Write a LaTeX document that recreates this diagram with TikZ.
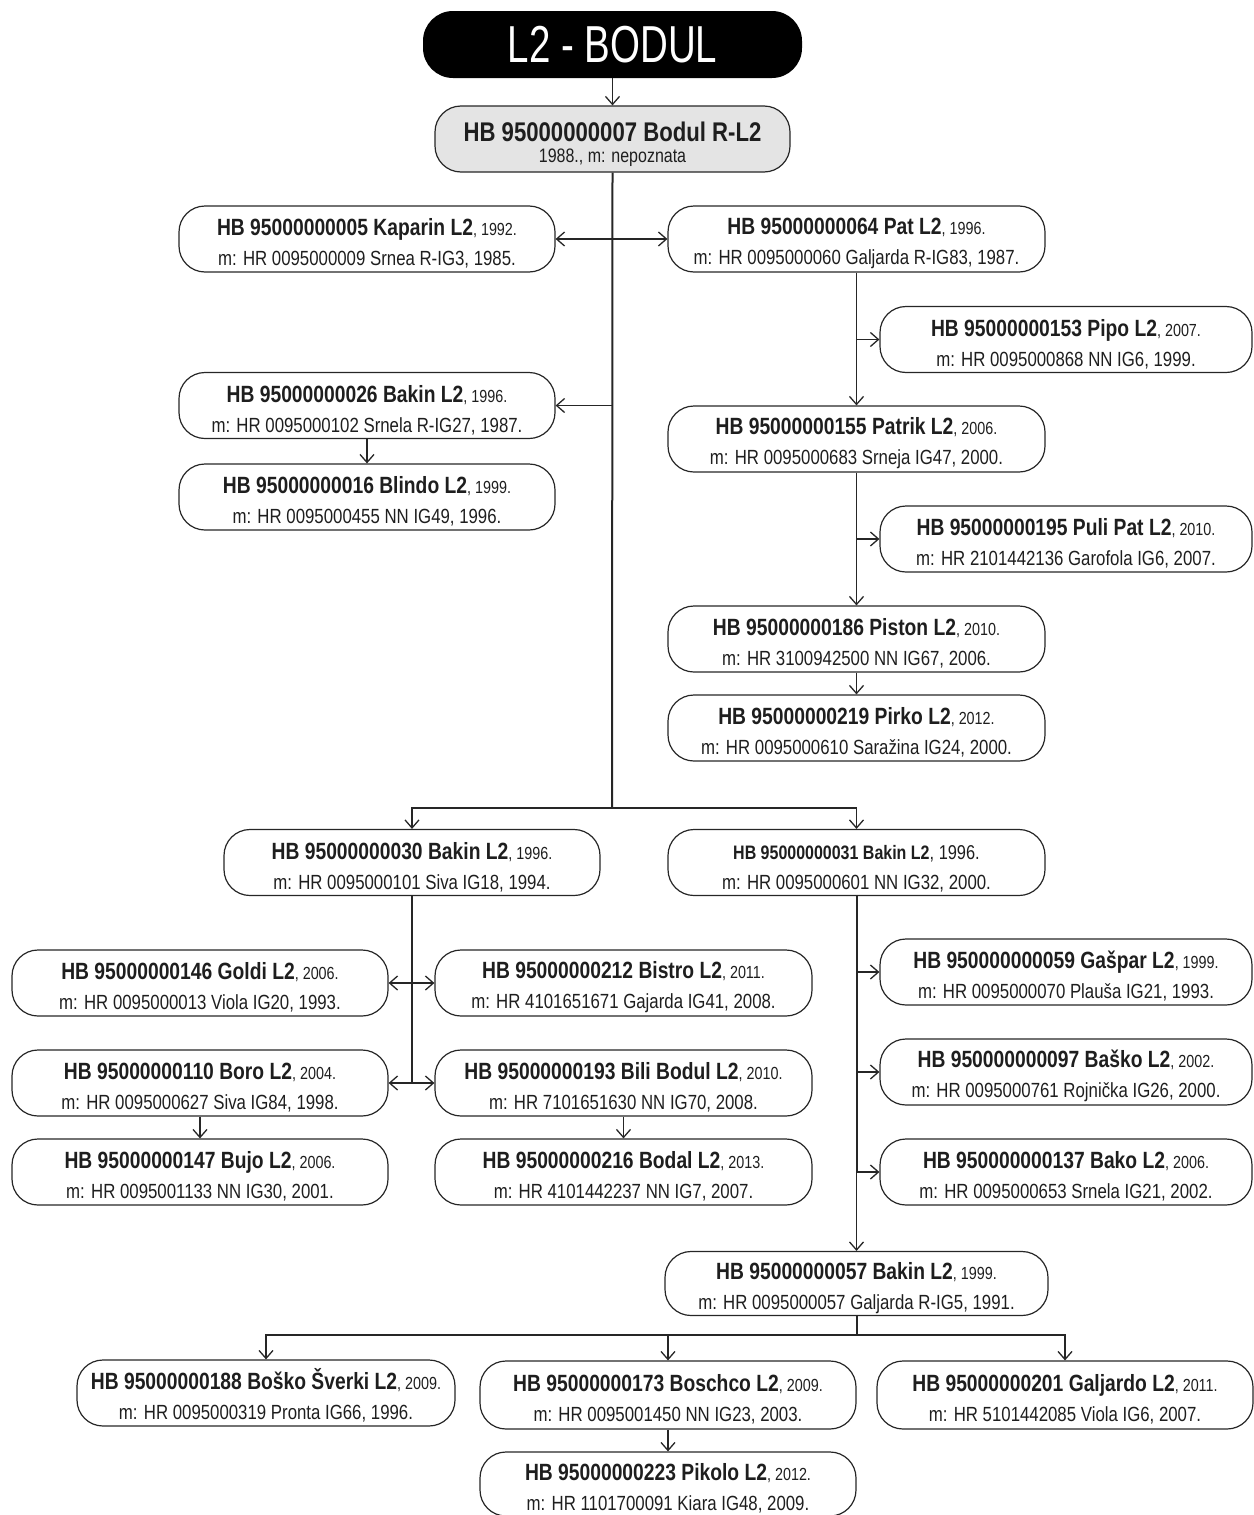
\documentclass[tikz,border=0pt]{standalone}
\usepackage{fontspec}
\setmainfont{Liberation Sans}[FakeStretch=0.82]
\newfontfamily\titlefont{Liberation Sans}[FakeStretch=0.74]
\usetikzlibrary{arrows.meta}
\definecolor{txt}{RGB}{30,30,30}
\definecolor{rootfill}{RGB}{228,228,228}
\newcommand\entry[3]{\rule{0pt}{26pt}{\bfseries\fontsize{23.5}{30}\selectfont #1}{\fontsize{17.5}{30}\selectfont, #2.}\\{\fontsize{20.5}{30}\selectfont m: #3}}
\tikzset{
  >={Straight Barb[length=8pt,width=14pt]},
  pbox/.style={draw=black!85, line width=1.2pt, rounded corners=26pt, minimum height=66pt,
    inner sep=0pt, align=center, text=txt, font=\fontsize{20.5}{30}\selectfont},
  conn/.style={line width=1.3pt, black!85},
  trunk/.style={line width=2pt, black!85},
}
\begin{document}
\begin{tikzpicture}[x=1pt,y=-1pt]
\useasboundingbox (0,0) rectangle (1253,1515);
% title and root
\node[fill=black, rounded corners=30pt, minimum width=379pt, minimum height=67pt, inner sep=0pt,
  text=white, font=\titlefont\fontsize{52}{52}\selectfont] (title) at (612.5,44.5) {L2 - BODUL};
\node[pbox, fill=rootfill, minimum width=355pt, font=\fontsize{19.5}{21}\selectfont] (root) at (612.5,139)
  {\rule{0pt}{31pt}{\bfseries\fontsize{27}{21}\selectfont HB 95000000007 Bodul R-L2}\\{\fontsize{19.5}{21}\selectfont 1988., m: nepoznata}};
% left/right first level
\node[pbox, minimum width=376pt] (kaparin) at (367,239) {\entry{HB 95000000005 Kaparin L2}{1992}{HR 0095000009 Srnea R-IG3, 1985.}};
\node[pbox, minimum width=377pt] (pat) at (856.5,239) {\entry{HB 95000000064 Pat L2}{1996}{HR 0095000060 Galjarda R-IG83, 1987.}};
\node[pbox, minimum width=372pt] (pipo) at (1066,339.5) {\entry{HB 95000000153 Pipo L2}{2007}{HR 0095000868 NN IG6, 1999.}};
\node[pbox, minimum width=376pt] (bakin26) at (367,405.5) {\entry{HB 95000000026 Bakin L2}{1996}{HR 0095000102 Srnela R-IG27, 1987.}};
\node[pbox, minimum width=376pt] (blindo) at (367,497) {\entry{HB 95000000016 Blindo L2}{1999}{HR 0095000455 NN IG49, 1996.}};
\node[pbox, minimum width=377pt] (patrik) at (856.5,439) {\entry{HB 95000000155 Patrik L2}{2006}{HR 0095000683 Srneja IG47, 2000.}};
\node[pbox, minimum width=372pt] (puli) at (1066,539) {\entry{HB 95000000195 Puli Pat L2}{2010}{HR 2101442136 Garofola IG6, 2007.}};
\node[pbox, minimum width=377pt] (piston) at (856.5,639) {\entry{HB 95000000186 Piston L2}{2010}{HR 3100942500 NN IG67, 2006.}};
\node[pbox, minimum width=377pt] (pirko) at (856.5,728) {\entry{HB 95000000219 Pirko L2}{2012}{HR 0095000610 Saražina IG24, 2000.}};
% second generation
\node[pbox, minimum width=376pt] (bakin30) at (412,862.5) {\entry{HB 95000000030 Bakin L2}{1996}{HR 0095000101 Siva IG18, 1994.}};
\node[pbox, minimum width=377pt] (bakin31) at (856.5,862.5)
  {\rule{0pt}{26pt}{\bfseries\fontsize{19.5}{30}\selectfont HB 95000000031 Bakin L2}{\fontsize{20}{30}\selectfont, 1996.}\\{\fontsize{20.5}{30}\selectfont m: HR 0095000601 NN IG32, 2000.}};
\node[pbox, minimum width=376pt] (goldi) at (200,983) {\entry{HB 95000000146 Goldi L2}{2006}{HR 0095000013 Viola IG20, 1993.}};
\node[pbox, minimum width=377pt] (bistro) at (623.5,983) {\entry{HB 95000000212 Bistro L2}{2011}{HR 4101651671 Gajarda IG41, 2008.}};
\node[pbox, minimum width=376pt] (boro) at (200,1083) {\entry{HB 95000000110 Boro L2}{2004}{HR 0095000627 Siva IG84, 1998.}};
\node[pbox, minimum width=377pt] (bili) at (623.5,1083) {\entry{HB 95000000193 Bili Bodul L2}{2010}{HR 7101651630 NN IG70, 2008.}};
\node[pbox, minimum width=376pt] (bujo) at (200,1172) {\entry{HB 95000000147 Bujo L2}{2006}{HR 0095001133 NN IG30, 2001.}};
\node[pbox, minimum width=377pt] (bodal) at (623.5,1172) {\entry{HB 95000000216 Bodal L2}{2013}{HR 4101442237 NN IG7, 2007.}};
\node[pbox, minimum width=372pt] (gaspar) at (1066,972) {\entry{HB 950000000059 Gašpar L2}{1999}{HR 0095000070 Plauša IG21, 1993.}};
\node[pbox, minimum width=372pt] (basko) at (1066,1072) {\entry{HB 950000000097 Baško L2}{2002}{HR 0095000761 Rojnička IG26, 2000.}};
\node[pbox, minimum width=372pt] (bako) at (1066,1172) {\entry{HB 950000000137 Bako L2}{2006}{HR 0095000653 Srnela IG21, 2002.}};
% third generation
\node[pbox, minimum width=383pt, minimum height=64pt] (bakin57) at (856.5,1283.5) {\entry{HB 95000000057 Bakin L2}{1999}{HR 0095000057 Galjarda R-IG5, 1991.}};
\node[pbox, minimum width=378pt] (bosko) at (266,1393) {\entry{HB 95000000188 Boško Šverki L2}{2009}{HR 0095000319 Pronta IG66, 1996.}};
\node[pbox, minimum width=376pt, minimum height=68pt] (boschco) at (668,1395) {\entry{HB 95000000173 Boschco L2}{2009}{HR 0095001450 NN IG23, 2003.}};
\node[pbox, minimum width=376pt, minimum height=68pt] (galjardo) at (1065,1395) {\entry{HB 95000000201 Galjardo L2}{2011}{HR 5101442085 Viola IG6, 2007.}};
\node[pbox, minimum width=376pt, minimum height=64pt] (pikolo) at (668,1484) {\entry{HB 95000000223 Pikolo L2}{2012}{HR 1101700091 Kiara IG48, 2009.}};
% junctions
\coordinate (j1) at (612,808);
\coordinate (j2) at (856.5,1335);
% connectors
\draw[conn,->] (title) -- (root);
\draw[trunk] (root.south) -- (j1);
\draw[conn,<->] (kaparin.east) -- (pat.west);
\draw[conn,->] (j1 |- bakin26.east) -- (bakin26.east);
\draw[conn,->] (bakin26) -- (blindo);
\draw[conn,->] (pat) -- (patrik);
\draw[conn,->] (pat.south |- pipo.west) -- (pipo.west);
\draw[conn,->] (patrik) -- (piston);
\draw[conn,->] (patrik.south |- puli.west) -- (puli.west);
\draw[conn,->] (piston) -- (pirko);
\draw[conn,->] (j1) -| (bakin30.north);
\draw[conn,->] (j1) -| (bakin31.north);
\draw[trunk] (bakin30.south) -- (bakin30.south |- boro.east);
\draw[conn,<->] (goldi.east) -- (bistro.west);
\draw[conn,<->] (boro.east) -- (bili.west);
\draw[conn,->] (boro) -- (bujo);
\draw[conn,->] (bili) -- (bodal);
\draw[trunk] (bakin31.south) -- (bakin31.south |- bako.west);
\draw[conn,->] (bakin31.south |- bako.west) -- (bakin57.north);
\draw[conn,->] (bakin31.south |- gaspar.west) -- (gaspar.west);
\draw[conn,->] (bakin31.south |- basko.west) -- (basko.west);
\draw[conn,->] (bakin31.south |- bako.west) -- (bako.west);
\draw[trunk] (bakin57.south) -- (j2);
\draw[conn,->] (j2) -| (bosko.north);
\draw[conn,->] (j2) -| (boschco.north);
\draw[conn,->] (j2) -| (galjardo.north);
\draw[conn,->] (boschco) -- (pikolo);
\end{tikzpicture}
\end{document}
